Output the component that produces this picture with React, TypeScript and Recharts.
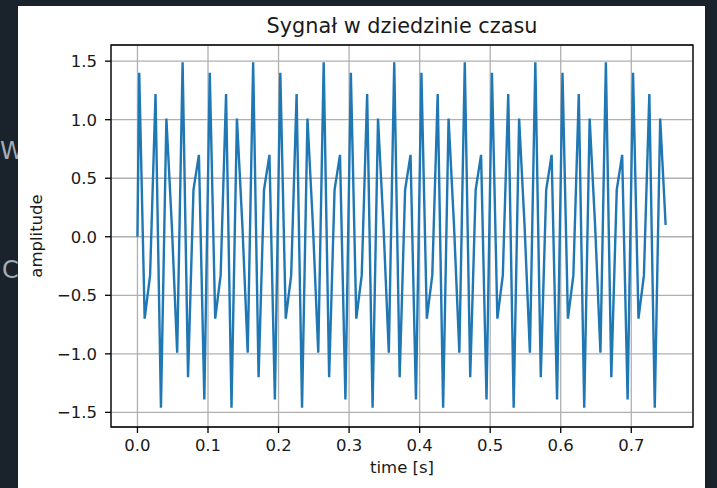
import React from "react";
import {
  LineChart,
  Line,
  XAxis,
  YAxis,
  CartesianGrid,
  ReferenceArea,
} from "recharts";

// sample times [s] (one vertex per visible corner)
const TIMES = [
  0.0,
  0.0025, 0.0102, 0.0179, 0.0256, 0.0333, 0.041, 0.0487, 0.0563, 0.064, 0.0717, 0.0794, 0.0871, 0.0948,
  0.1025, 0.1102, 0.1179, 0.1256, 0.1333, 0.141, 0.1487, 0.1563, 0.164, 0.1717, 0.1794, 0.1871, 0.1948,
  0.2025, 0.2102, 0.2179, 0.2256, 0.2333, 0.241, 0.2487, 0.2563, 0.264, 0.2717, 0.2794, 0.2871, 0.2948,
  0.3025, 0.3102, 0.3179, 0.3256, 0.3333, 0.341, 0.3487, 0.3563, 0.364, 0.3717, 0.3794, 0.3871, 0.3948,
  0.4025, 0.4102, 0.4179, 0.4256, 0.4333, 0.441, 0.4487, 0.4563, 0.464, 0.4717, 0.4794, 0.4871, 0.4948,
  0.5025, 0.5102, 0.5179, 0.5256, 0.5333, 0.541, 0.5487, 0.5563, 0.564, 0.5717, 0.5794, 0.5871, 0.5948,
  0.6025, 0.6102, 0.6179, 0.6256, 0.6333, 0.641, 0.6487, 0.6563, 0.664, 0.6717, 0.6794, 0.6871, 0.6948,
  0.7025, 0.7102, 0.7179, 0.7256, 0.7333, 0.741, 0.7487,
];

// amplitude at each sample
const AMPLITUDE = [
  0.0,
  1.4, -0.7, -0.33, 1.22, -1.46, 1.01, 0.1, -0.99, 1.49, -1.2, 0.4, 0.7, -1.39,
  1.4, -0.7, -0.33, 1.22, -1.46, 1.01, 0.1, -0.99, 1.49, -1.2, 0.4, 0.7, -1.39,
  1.4, -0.7, -0.33, 1.22, -1.46, 1.01, 0.1, -0.99, 1.49, -1.2, 0.4, 0.7, -1.39,
  1.4, -0.7, -0.33, 1.22, -1.46, 1.01, 0.1, -0.99, 1.49, -1.2, 0.4, 0.7, -1.39,
  1.4, -0.7, -0.33, 1.22, -1.46, 1.01, 0.1, -0.99, 1.49, -1.2, 0.4, 0.7, -1.39,
  1.4, -0.7, -0.33, 1.22, -1.46, 1.01, 0.1, -0.99, 1.49, -1.2, 0.4, 0.7, -1.39,
  1.4, -0.7, -0.33, 1.22, -1.46, 1.01, 0.1, -0.99, 1.49, -1.2, 0.4, 0.7, -1.39,
  1.4, -0.7, -0.33, 1.22, -1.46, 1.01, 0.1,
];

const X_TICKS = [0, 0.1, 0.2, 0.3, 0.4, 0.5, 0.6, 0.7];
const Y_TICKS = [-1.5, -1.0, -0.5, 0, 0.5, 1.0, 1.5];

const X_DOMAIN = [-0.0375, 0.7875];
const Y_DOMAIN = [-1.625, 1.638];

const data = TIMES.map((t, i) => ({ t, y: AMPLITUDE[i] }));

const FONT = "'DejaVu Sans', sans-serif";
const fmt = (v: number) => (v < 0 ? "\u2212" : "") + Math.abs(v).toFixed(1);
const tickStyle = { fill: "#1a1a1a", fontSize: 16.5, fontFamily: FONT };

export default function App() {
  return (
    <div
      style={{
        position: "fixed",
        left: 0,
        top: 0,
        width: 717,
        height: 488,
        overflow: "hidden",
        background: "#1a222c",
        fontFamily: FONT,
      }}
    >
      {/* bits of editor text behind the figure */}
      <div style={{ position: "absolute", left: 0, top: 137, color: "#a3adb8", fontSize: 24, fontFamily: FONT }}>
        W
      </div>
      <div style={{ position: "absolute", left: 2, top: 256, color: "#a3adb8", fontSize: 24, fontFamily: FONT }}>
        C
      </div>

      <div style={{ position: "absolute", left: 18, top: 6, width: 687, height: 482, background: "#fff" }} />

      <div
        style={{
          position: "absolute",
          left: 111,
          width: 582,
          top: 14,
          textAlign: "center",
          fontSize: 20.8,
          color: "#1a1a1a",
          lineHeight: "24px",
        }}
      >
        Sygnał w dziedzinie czasu
      </div>
      <div
        style={{
          position: "absolute",
          left: 111,
          width: 582,
          top: 458,
          textAlign: "center",
          fontSize: 16.5,
          color: "#1a1a1a",
          lineHeight: "20px",
        }}
      >
        time [s]
      </div>
      <div
        style={{
          position: "absolute",
          left: 37,
          top: 236,
          transform: "translate(-50%, -50%) rotate(-90deg)",
          fontSize: 16.5,
          color: "#1a1a1a",
          whiteSpace: "nowrap",
          lineHeight: "20px",
        }}
      >
        amplitude
      </div>

      <div style={{ position: "absolute", left: 0, top: 0 }}>
        <LineChart
          width={717}
          height={488}
          data={data}
          margin={{ top: 45, right: 24, bottom: 21, left: 31 }}
        >
          <CartesianGrid stroke="#b0b0b0" strokeWidth={1.3} />
          <XAxis
            dataKey="t"
            type="number"
            domain={X_DOMAIN}
            ticks={X_TICKS}
            allowDataOverflow
            tickFormatter={fmt}
            height={40}
            axisLine={false}
            tickLine={{ stroke: "#000", strokeWidth: 1.3 }}
            tickSize={6}
            tickMargin={6}
            tick={tickStyle}
          />
          <YAxis
            type="number"
            domain={Y_DOMAIN}
            ticks={Y_TICKS}
            allowDataOverflow
            tickFormatter={fmt}
            width={80}
            axisLine={false}
            tickLine={{ stroke: "#000", strokeWidth: 1.3 }}
            tickSize={6}
            tickMargin={8}
            tick={tickStyle}
          />
          <Line
            type="linear"
            dataKey="y"
            stroke="#1f77b4"
            strokeWidth={2.4}
            dot={false}
            isAnimationActive={false}
          />
          <ReferenceArea
            x1={X_DOMAIN[0]}
            x2={X_DOMAIN[1]}
            y1={Y_DOMAIN[0]}
            y2={Y_DOMAIN[1]}
            fill="none"
            stroke="#000"
            strokeWidth={1.3}
          />
        </LineChart>
      </div>
    </div>
  );
}
